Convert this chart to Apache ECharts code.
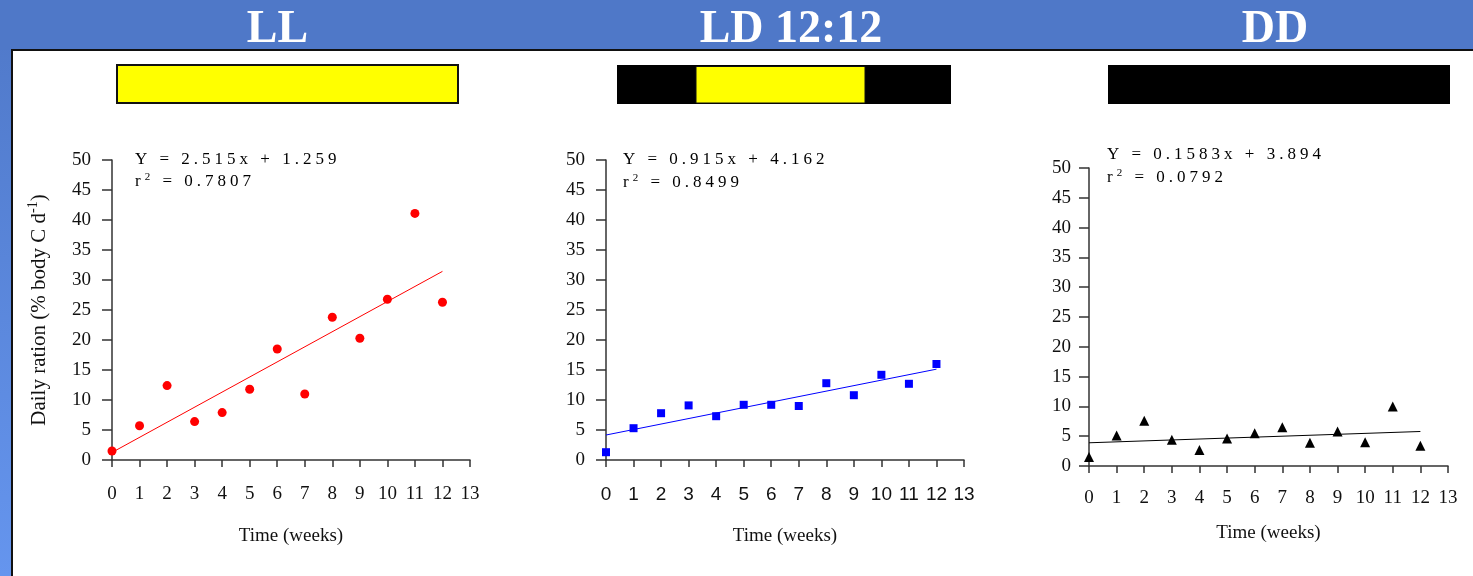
<!DOCTYPE html>
<html><head><meta charset="utf-8">
<script src="https://cdn.jsdelivr.net/npm/echarts/dist/echarts.min.js"></script>
<style>html,body{margin:0;padding:0;background:#fff}#c{width:1473px;height:576px}</style>
</head><body><div id="c"></div>
<script>
// ---- data ----
const weeks = [0,1,2,3,4,5,6,7,8,9,10,11,12];
const llValues = [1.5,5.7,12.4,6.4,7.9,11.8,18.5,11.0,23.8,20.3,26.8,41.1,26.3];
const ldValues = [1.3,5.3,7.8,9.1,7.3,9.2,9.2,9.0,12.8,10.8,14.2,12.7,16.0];
const ddValues = [1.5,5.1,7.6,4.4,2.7,4.6,5.5,6.5,3.9,5.8,4.0,10.0,3.4];
const llFit = [[0,1.259],[12,31.44]];
const ldFit = [[0,4.162],[12,15.14]];
const ddFit = [[0,3.894],[12,5.79]];
const panelTitles = ['LL','LD 12:12','DD'];
const equations = ['Y = 2.515x + 1.259','Y = 0.915x + 4.162','Y = 0.1583x + 3.894'];
const rSquared = ['0.7807','0.8499','0.0792'];
const xAxisName = 'Time (weeks)';
const yAxisName = 'Daily ration (% body C d';

// ---- layout / style ----
const SERIF = "'Liberation Serif','Times New Roman',serif";
const SANS = "'Liberation Sans',Arial,sans-serif";
const grids = [
  {left:112, top:160, width:358, height:300},
  {left:606, top:160, width:358, height:300},
  {left:1089, top:168, width:359, height:298}
];
const colors = ['#ff0000','#0000ff','#000000'];
const symbols = ['circle','rect','triangle'];
const symbolSizes = [9,8,10];
const labelFonts = [SERIF, SANS, SERIF];
const xNameGaps = [67,67,58];
const pointSets = [llValues, ldValues, ddValues];
const fits = [llFit, ldFit, ddFit];

const axisLineStyle = {color:'#333', width:1.5};

function spaced(txt){
  return txt.split('').map(c => '{c|' + c + '}').join('');
}
const eqRich = {
  c:{fontFamily:SERIF, fontSize:17, color:'#111', padding:[0,2,0,2], lineHeight:20},
  s:{fontFamily:SERIF, fontSize:11, color:'#111', padding:[0,2,0,2], verticalAlign:'top', lineHeight:20}
};
const eqPos = [
  {x:133, y1:160, y2:182},
  {x:621, y1:160, y2:183},
  {x:1105, y1:155, y2:178}
];
const titleX = [277.5, 791, 1275];

const graphics = [
  {type:'rect', z:-10, shape:{x:0,y:0,width:1473,height:576},
   style:{fill:new echarts.graphic.LinearGradient(0,0,0,1,[{offset:0,color:'#4f78c8'},{offset:1,color:'#6595ee'}])}},
  {type:'rect', z:-9, shape:{x:0,y:0,width:1473,height:50}, style:{fill:'#4f78c8'}},
  {type:'rect', z:-8, shape:{x:12,y:50,width:1470,height:540}, style:{fill:'#ffffff', stroke:'#111', lineWidth:2}},
  // photoperiod bars
  {type:'rect', shape:{x:117,y:65,width:341,height:38}, style:{fill:'#ffff00', stroke:'#111', lineWidth:2}},
  {type:'rect', shape:{x:617,y:65,width:334,height:39}, style:{fill:'#000000'}},
  {type:'rect', shape:{x:696,y:66.5,width:169,height:36.5}, style:{fill:'#ffff00', stroke:'#111', lineWidth:1}},
  {type:'rect', shape:{x:1108,y:65,width:342,height:39}, style:{fill:'#000000'}}
];
panelTitles.forEach((t,i)=>{
  graphics.push({type:'text', x:titleX[i], y:30, style:{text:t, fill:'#ffffff',
    font:"bold 46px " + SERIF, textAlign:'center', textVerticalAlign:'middle'}});
});
equations.forEach((eq,i)=>{
  graphics.push({type:'text', x:eqPos[i].x, y:eqPos[i].y1, style:{text:spaced(eq), rich:eqRich,
    textAlign:'left', textVerticalAlign:'middle'}});
  graphics.push({type:'text', x:eqPos[i].x, y:eqPos[i].y2, style:{
    text:'{c|r}{s|2}' + spaced(' = ' + rSquared[i]), rich:eqRich,
    textAlign:'left', textVerticalAlign:'middle'}});
});

const xAxes = grids.map((g,i)=>({
  type:'value', gridIndex:i, min:0, max:13, interval:1,
  axisLine:{show:true, onZero:false, lineStyle:axisLineStyle},
  axisTick:{show:true, length:7, lineStyle:axisLineStyle},
  splitLine:{show:false},
  axisLabel:{fontFamily:labelFonts[i], fontSize:19, color:'#111', margin:i===2?23:25},
  name:xAxisName, nameLocation:'middle', nameGap:xNameGaps[i],
  nameTextStyle:{fontFamily:SERIF, fontSize:19, color:'#111'}
}));
const yAxes = grids.map((g,i)=>({
  type:'value', gridIndex:i, min:0, max:50, interval:5,
  axisLine:{show:true, lineStyle:axisLineStyle},
  axisTick:{show:true, length:10, lineStyle:axisLineStyle},
  splitLine:{show:false},
  axisLabel:{fontFamily:SERIF, fontSize:19, color:'#111', margin:i===2?18:21}
}));
yAxes[0].name = '{a|' + yAxisName + '}{b|-1}{a|)}';
yAxes[0].nameLocation = 'middle';
yAxes[0].nameGap = 60;
yAxes[0].nameRotate = 90;
yAxes[0].nameTextStyle = {rich:{
  a:{fontFamily:SERIF, fontSize:21, color:'#111', lineHeight:26},
  b:{fontFamily:SERIF, fontSize:14, color:'#111', verticalAlign:'top', lineHeight:26}
}};

const series = [];
pointSets.forEach((vals,i)=>{
  series.push({type:'scatter', xAxisIndex:i, yAxisIndex:i, symbol:symbols[i], symbolSize:symbolSizes[i],
    itemStyle:{color:colors[i], opacity:1}, data:weeks.map((w,j)=>[w, vals[j]]), z:3});
  series.push({type:'line', xAxisIndex:i, yAxisIndex:i, showSymbol:false, symbol:'none',
    lineStyle:{color:colors[i], width:1}, data:fits[i], z:2});
});

const chart = echarts.init(document.getElementById('c'));
chart.setOption({
  animation:false,
  backgroundColor:'#ffffff',
  graphic:{elements:graphics},
  grid:grids,
  xAxis:xAxes,
  yAxis:yAxes,
  series:series
});
</script></body></html>
